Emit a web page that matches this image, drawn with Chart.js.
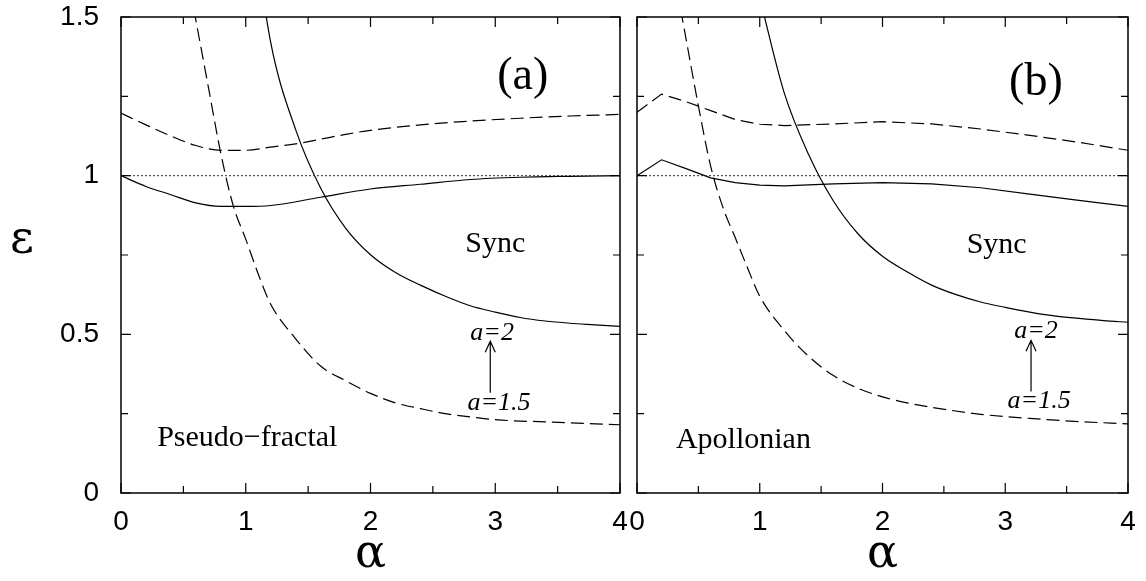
<!DOCTYPE html>
<html>
<head>
<meta charset="utf-8">
<script src="https://cdn.jsdelivr.net/npm/chart.js@4.4.1/dist/chart.umd.min.js"></script>
<style>
  body { margin: 0; background: #fff; }
  #wrap { position: relative; width: 1146px; height: 581px; overflow: hidden; }
  #cA { position: absolute; left: 0; top: 0; }
  #cB { position: absolute; left: 620px; top: 0; }
</style>
</head>
<body>
<div id="wrap">
  <canvas id="cA" width="640" height="581"></canvas>
  <canvas id="cB" width="526" height="581"></canvas>
</div>
<script>
// axis ticks
var xTicks = [0, 1, 2, 3, 4];
var yTicks = [0, 0.5, 1, 1.5];
var yTickLabels = ['0', '0.5', '1', '1.5'];

// (a) pseudo-fractal
var pfHighA2X = [0, 0.2, 0.4, 0.6, 0.8, 1.0, 1.2, 1.6, 2.0, 2.4, 2.8, 3.2, 3.6, 4.0];
var pfHighA2Y = [1.0, 0.966, 0.940, 0.914, 0.903, 0.903, 0.906, 0.932, 0.958, 0.973, 0.988, 0.995, 0.998, 1.0];
var pfLowA2X = [1.0, 1.2, 1.4, 1.6, 1.8, 2.0, 2.2, 2.4, 2.6, 2.8, 3.0, 3.2, 3.4, 3.6, 3.8, 4.0];
var pfLowA2Y = [1.95, 1.42, 1.145, 0.961, 0.835, 0.751, 0.695, 0.655, 0.62, 0.59, 0.57, 0.553, 0.542, 0.535, 0.53, 0.525];
var pfHighA15X = [0, 0.2, 0.4, 0.6, 0.8, 1.0, 1.2, 1.4, 1.6, 1.8, 2.0, 2.4, 2.8, 3.2, 3.6, 4.0];
var pfHighA15Y = [1.197, 1.16, 1.125, 1.095, 1.08, 1.08, 1.09, 1.10, 1.115, 1.13, 1.143, 1.16, 1.172, 1.181, 1.188, 1.193];
var pfLowA15X = [0.5, 0.6, 0.7, 0.8, 0.9, 1.0, 1.1, 1.2, 1.4, 1.6, 1.8, 2.0, 2.2, 2.4, 2.6, 2.8, 3.0, 3.4, 3.8, 4.0];
var pfLowA15Y = [1.7, 1.49, 1.28, 1.07, 0.905, 0.80, 0.69, 0.595, 0.486, 0.40, 0.354, 0.314, 0.284, 0.266, 0.25, 0.24, 0.231, 0.224, 0.218, 0.215];

// (b) apollonian
var apHighA2X = [0, 0.2, 0.4, 0.6, 0.8, 1.0, 1.2, 1.6, 2.0, 2.4, 2.8, 3.2, 3.6, 4.0];
var apHighA2Y = [1.0, 1.05, 1.022, 0.993, 0.978, 0.970, 0.968, 0.974, 0.978, 0.974, 0.962, 0.942, 0.922, 0.903];
var apLowA2X = [1.0, 1.2, 1.4, 1.6, 1.8, 2.0, 2.2, 2.4, 2.6, 2.8, 3.0, 3.2, 3.4, 3.6, 3.8, 4.0];
var apLowA2Y = [1.56, 1.26, 1.065, 0.92, 0.817, 0.746, 0.697, 0.655, 0.625, 0.602, 0.585, 0.57, 0.558, 0.55, 0.543, 0.538];
var apHighA15X = [0, 0.2, 0.4, 0.6, 0.8, 1.0, 1.2, 1.6, 2.0, 2.4, 2.8, 3.2, 3.6, 4.0];
var apHighA15Y = [1.20, 1.257, 1.233, 1.205, 1.177, 1.162, 1.158, 1.163, 1.17, 1.163, 1.147, 1.127, 1.105, 1.08];
var apLowA15X = [0.3, 0.4, 0.5, 0.6, 0.7, 0.8, 0.9, 1.0, 1.2, 1.4, 1.6, 1.8, 2.0, 2.2, 2.4, 2.8, 3.2, 3.6, 4.0];
var apLowA15Y = [1.64, 1.43, 1.22, 1.03, 0.90, 0.805, 0.71, 0.62, 0.512, 0.43, 0.37, 0.33, 0.303, 0.284, 0.27, 0.248, 0.235, 0.225, 0.218];

// the eps = 1 reference line
var refX = [0, 4];
var refY = [1, 1];

function pts(xs, ys) {
  return xs.map(function (x, i) { return { x: x, y: ys[i] }; });
}

var SANS = '"Liberation Sans", Arial, sans-serif';
var SERIF = '"Liberation Serif", "Times New Roman", serif';

function solid(xs, ys, smooth) {
  return { data: pts(xs, ys), borderColor: '#000', borderWidth: 1.2, pointRadius: 0,
    cubicInterpolationMode: smooth ? 'monotone' : 'default', tension: 0 };
}
function dashed(xs, ys, smooth) {
  return { data: pts(xs, ys), borderColor: '#000', borderWidth: 1.2, borderDash: [13, 6], pointRadius: 0,
    cubicInterpolationMode: smooth ? 'monotone' : 'default', tension: 0 };
}
function dotted(xs, ys) {
  return { data: pts(xs, ys), borderColor: '#333', borderWidth: 1, borderDash: [2, 2], pointRadius: 0, tension: 0 };
}

// frame, inward ticks and the text written on the plot
var framePlugin = {
  id: 'frame',
  afterDatasetsDraw: function (chart, args, opts) {
    var ctx = chart.ctx, a = chart.chartArea;
    var x = chart.scales.x, y = chart.scales.y;
    ctx.save();
    ctx.strokeStyle = '#000';
    ctx.lineWidth = 1.5;
    ctx.strokeRect(a.left, a.top, a.right - a.left, a.bottom - a.top);

    ctx.lineWidth = 1.2;
    ctx.beginPath();
    for (var v = 0; v <= 4.001; v += 0.5) {
      var px = x.getPixelForValue(v);
      var len = (v % 1 === 0) ? 10 : 7;
      ctx.moveTo(px, a.bottom); ctx.lineTo(px, a.bottom - len);
      ctx.moveTo(px, a.top); ctx.lineTo(px, a.top + len);
    }
    for (var w = 0; w <= 1.501; w += 0.25) {
      var py = y.getPixelForValue(w);
      var l2 = (Math.abs(w * 2 - Math.round(w * 2)) < 1e-6) ? 10 : 7;
      ctx.moveTo(a.left, py); ctx.lineTo(a.left + l2, py);
      ctx.moveTo(a.right, py); ctx.lineTo(a.right - l2, py);
    }
    ctx.stroke();

    ctx.fillStyle = '#000';
    (opts.texts || []).forEach(function (t) {
      ctx.font = t.font;
      ctx.textAlign = t.align || 'center';
      ctx.textBaseline = 'alphabetic';
      ctx.fillText(t.text, x.getPixelForValue(t.x), y.getPixelForValue(t.y));
    });

    if (opts.arrow) {
      var ax = x.getPixelForValue(opts.arrow.x);
      var y0 = y.getPixelForValue(opts.arrow.from);
      var y1 = y.getPixelForValue(opts.arrow.to);
      ctx.lineWidth = 1.2;
      ctx.beginPath();
      ctx.moveTo(ax, y0); ctx.lineTo(ax, y1);
      ctx.moveTo(ax - 5, y1 + 11); ctx.lineTo(ax, y1); ctx.lineTo(ax + 5, y1 + 11);
      ctx.stroke();
    }

    // axis symbols
    ctx.textAlign = 'center';
    ctx.textBaseline = 'middle';
    ctx.font = '46px "DejaVu Serif", ' + SERIF;
    ctx.fillText('α', (a.left + a.right) / 2, a.bottom + 62);
    if (opts.eps) {
      ctx.fillText('ε', 22, 241);
    }
    ctx.restore();
  }
};

function makeChart(id, sets, showY, pad, texts, arrow) {
  return new Chart(document.getElementById(id), {
    type: 'line',
    data: { datasets: sets },
    options: {
      responsive: false,
      animation: false,
      events: [],
      layout: { padding: pad },
      plugins: {
        legend: { display: false },
        tooltip: { enabled: false },
        frame: { texts: texts, arrow: arrow, eps: showY }
      },
      scales: {
        x: {
          type: 'linear', min: 0, max: 4,
          afterBuildTicks: function (s) { s.ticks = xTicks.map(function (v) { return { value: v }; }); },
          afterFit: function (s) { s.height = 88; s.paddingLeft = 0; s.paddingRight = 0; },
          ticks: { color: '#000', font: { family: SANS, size: 28 }, padding: 12, maxRotation: 0, autoSkip: false },
          grid: { display: false, drawTicks: false },
          border: { display: false }
        },
        y: {
          type: 'linear', min: 0, max: 1.5,
          display: showY,
          afterBuildTicks: function (s) { s.ticks = yTicks.map(function (v) { return { value: v }; }); },
          afterFit: function (s) { s.width = showY ? 121 : 0; s.paddingTop = 0; s.paddingBottom = 0; },
          ticks: {
            color: '#000', font: { family: SANS, size: 28 }, padding: 22,
            callback: function (v) { return yTickLabels[yTicks.indexOf(v)]; }
          },
          grid: { display: false, drawTicks: false },
          border: { display: false }
        }
      }
    },
    plugins: [framePlugin]
  });
}

makeChart('cA', [
  dotted(refX, refY),
  solid(pfHighA2X, pfHighA2Y, true),
  solid(pfLowA2X, pfLowA2Y, true),
  dashed(pfHighA15X, pfHighA15Y, true),
  dashed(pfLowA15X, pfLowA15Y, true)
], true, { top: 17, right: 20, left: 0, bottom: 0 }, [
  { text: '(a)', x: 3.22, y: 1.272, font: '46px ' + SERIF },
  { text: 'Sync', x: 3.0, y: 0.76, font: '30px ' + SERIF },
  { text: 'Pseudo\u2212fractal', x: 0.29, y: 0.147, font: '30px ' + SERIF, align: 'left' },
  { text: 'a=2', x: 2.975, y: 0.483, font: 'italic 26px ' + SERIF },
  { text: 'a=1.5', x: 3.03, y: 0.263, font: 'italic 26px ' + SERIF }
], { x: 2.96, from: 0.316, to: 0.478 });

makeChart('cB', [
  dotted(refX, refY),
  solid(apHighA2X, apHighA2Y, false),
  solid(apLowA2X, apLowA2Y, true),
  dashed(apHighA15X, apHighA15Y, false),
  dashed(apLowA15X, apLowA15Y, true)
], false, { top: 17, right: 18, left: 17, bottom: 0 }, [
  { text: '(b)', x: 3.25, y: 1.255, font: '46px ' + SERIF },
  { text: 'Sync', x: 2.93, y: 0.757, font: '30px ' + SERIF },
  { text: 'Apollonian', x: 0.317, y: 0.142, font: '30px ' + SERIF, align: 'left' },
  { text: 'a=2', x: 3.25, y: 0.489, font: 'italic 26px ' + SERIF },
  { text: 'a=1.5', x: 3.276, y: 0.269, font: 'italic 26px ' + SERIF }
], { x: 3.21, from: 0.32, to: 0.481 });
</script>
</body>
</html>
